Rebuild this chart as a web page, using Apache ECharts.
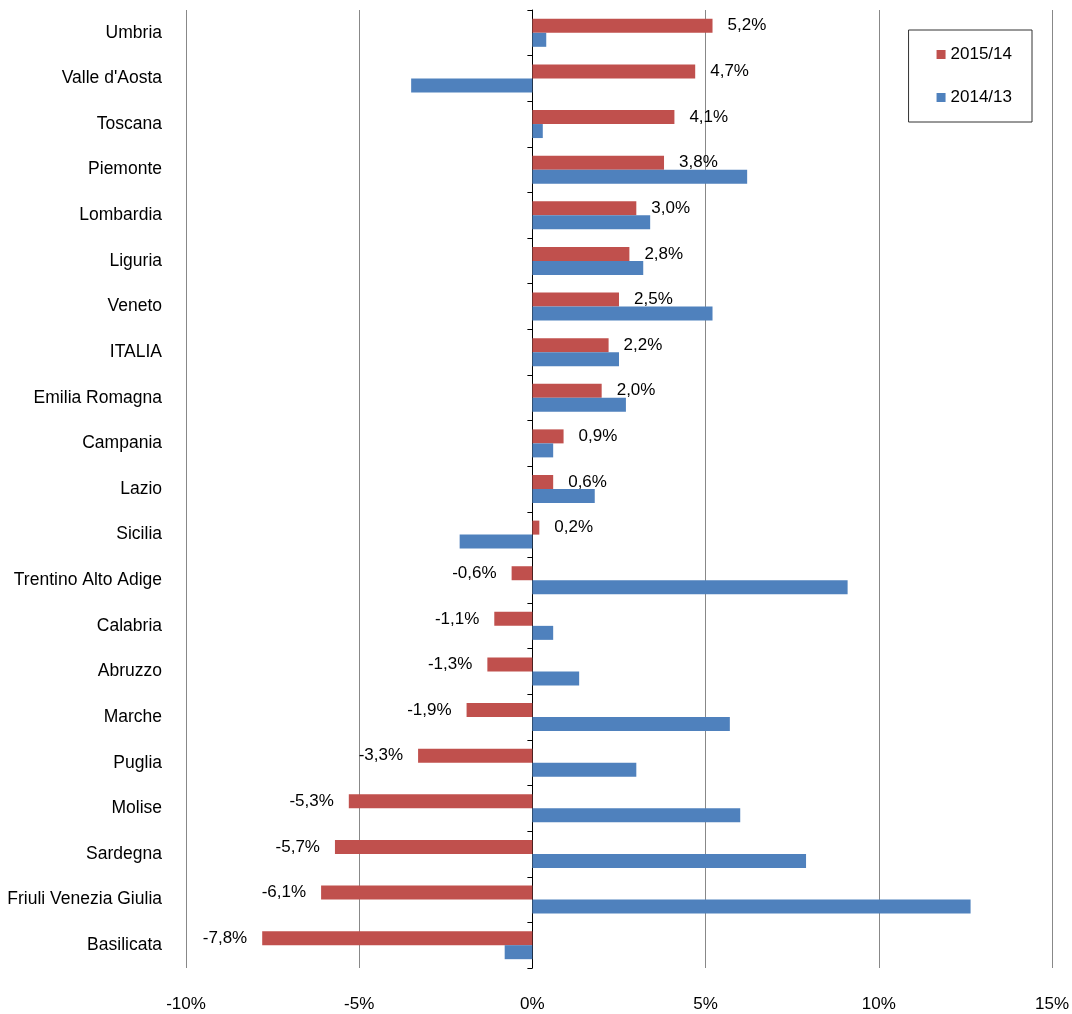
<!DOCTYPE html>
<html><head><meta charset="utf-8">
<script src="https://cdn.jsdelivr.net/npm/echarts@6/dist/echarts.min.js"></script>
<style>body{margin:0}#c{width:1072px;height:1014px}</style>
</head><body><div id="c"></div>
<script>
const regions = ['Umbria', "Valle d'Aosta", 'Toscana', 'Piemonte', 'Lombardia', 'Liguria', 'Veneto', 'ITALIA', 'Emilia Romagna', 'Campania', 'Lazio', 'Sicilia', 'Trentino Alto Adige', 'Calabria', 'Abruzzo', 'Marche', 'Puglia', 'Molise', 'Sardegna', 'Friuli Venezia Giulia', 'Basilicata']
const v2015 = [5.2, 4.7, 4.1, 3.8, 3.0, 2.8, 2.5, 2.2, 2.0, 0.9, 0.6, 0.2, -0.6, -1.1, -1.3, -1.9, -3.3, -5.3, -5.7, -6.1, -7.8]
const v2014 = [0.4, -3.5, 0.3, 6.2, 3.4, 3.2, 5.2, 2.5, 2.7, 0.6, 1.8, -2.1, 9.1, 0.6, 1.35, 5.7, 3.0, 6.0, 7.9, 12.65, -0.8]

const fmt = v => v.toFixed(1).replace('.', ',') + '%'
const chart = echarts.init(document.getElementById('c'))
chart.setOption({
    animation: false,
    textStyle: { fontFamily: 'Liberation Sans, Arial', color: '#000' },
    legend: {
        orient: 'vertical', right: 40, top: 30, padding: [16, 20, 16, 28],
        itemGap: 26, itemWidth: 9, itemHeight: 9, borderColor: '#333', borderWidth: 1,
        textStyle: { fontSize: 17, color: '#000' }, icon: 'rect',
        data: ['2015/14', '2014/13']
    },
    grid: { left: 186, right: 20, top: 10, bottom: 46 },
    xAxis: {
        type: 'value', min: -10, max: 15, interval: 5,
        axisLabel: { formatter: '{value}%', fontSize: 17, color: '#000', margin: 28 },
        axisLine: { show: false }, axisTick: { show: false },
        splitLine: { lineStyle: { color: '#888' } }
    },
    yAxis: {
        type: 'category', inverse: true, data: regions,
        axisLine: { onZero: true, lineStyle: { color: '#000' } },
        axisTick: { show: true, inside: false, length: 5, lineStyle: { color: '#000' } },
        axisLabel: { fontSize: 17.5, color: '#000', margin: 24 }
    },
    series: [
        {
            name: '2015/14', type: 'bar', barWidth: 14, barGap: '0%',
            itemStyle: { color: '#c0504d' },
            data: v2015.map(v => ({
                value: v,
                label: { show: true, position: v >= 0 ? 'right' : 'left', distance: 15, formatter: fmt(v), fontSize: 17, color: '#000' }
            }))
        },
        {
            name: '2014/13', type: 'bar', barWidth: 14,
            itemStyle: { color: '#4f81bd' },
            data: v2014
        }
    ]
})
</script>
</body></html>
